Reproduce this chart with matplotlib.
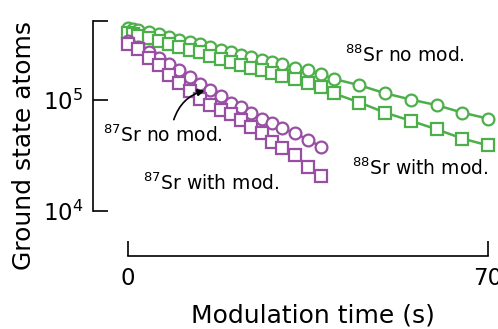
import matplotlib
matplotlib.use('Agg')
import matplotlib.pyplot as plt
from matplotlib.ticker import NullLocator, FixedLocator, FixedFormatter

# modulation time (s) and ground state atom numbers
t88 = [0, 1, 2, 4, 6, 8, 10, 12, 14, 16, 18, 20, 22, 24, 26, 28, 30,
       32.5, 35, 37.5, 40, 45, 50, 55, 60, 65, 70]
sr88_nomod = [4.5e5, 4.4e5, 4.3e5, 4.1e5, 3.9e5, 3.7e5, 3.5e5, 3.3e5, 3.2e5,
              3.0e5, 2.85e5, 2.7e5, 2.55e5, 2.45e5, 2.3e5, 2.2e5, 2.1e5,
              1.95e5, 1.85e5, 1.7e5, 1.55e5, 1.36e5, 1.15e5, 1.01e5, 9.0e4,
              7.7e4, 6.8e4]
sr88_mod = [4.0e5, 3.9e5, 3.8e5, 3.6e5, 3.4e5, 3.2e5, 3.0e5, 2.85e5, 2.7e5,
            2.5e5, 2.35e5, 2.2e5, 2.05e5, 1.95e5, 1.85e5, 1.75e5, 1.65e5,
            1.55e5, 1.42e5, 1.3e5, 1.15e5, 9.5e4, 7.7e4, 6.5e4, 5.45e4,
            4.5e4, 3.9e4]

t87 = [0, 2, 4, 6, 8, 10, 12, 14, 16, 18, 20, 22, 24, 26, 28, 30,
       32.5, 35, 37.5]
sr87_nomod = [3.4e5, 3.0e5, 2.7e5, 2.4e5, 2.1e5, 1.85e5, 1.6e5, 1.4e5,
              1.22e5, 1.08e5, 9.5e4, 8.6e4, 7.7e4, 6.8e4, 6.2e4, 5.55e4,
              5.0e4, 4.4e4, 3.8e4]
sr87_mod = [3.2e5, 2.9e5, 2.4e5, 2.07e5, 1.68e5, 1.43e5, 1.2e5, 1.03e5,
            9.0e4, 8.2e4, 7.5e4, 6.6e4, 5.75e4, 5.0e4, 4.2e4, 3.7e4,
            3.2e4, 2.5e4, 2.05e4]

green = '#4daf4a'
purple = '#984ea3'

plt.rcParams['font.family'] = 'DejaVu Sans'

fig = plt.figure(figsize=(4.98, 3.29), dpi=100)
ax = fig.add_axes([93/498, 1-256/329, 402/498, (256-15)/329])

mk = dict(mfc='white', ms=8.5, mew=1.6, lw=1.8)
ax.semilogy(t88, sr88_nomod, 'o-', color=green, **mk)
ax.semilogy(t88, sr88_mod, 's-', color=green, **mk)
ax.semilogy(t87, sr87_nomod, 'o-', color=purple, **mk)
ax.semilogy(t87, sr87_mod, 's-', color=purple, **mk)

x0 = -(128-93)/(360/70.)
ax.set_xlim(x0, x0 + 402/(360/70.))
ax.set_ylim(10**3.595, 10**5.766)

for s in ['top', 'right']:
    ax.spines[s].set_visible(False)
ax.spines['left'].set_bounds(1e4, 5.15e5)
ax.spines['bottom'].set_bounds(0, 70)
for s in ['left', 'bottom']:
    ax.spines[s].set_linewidth(1.2)

ax.yaxis.set_major_locator(FixedLocator([1e4, 1e5, 5.15e5]))
ax.yaxis.set_major_formatter(FixedFormatter([r'$10^4$', r'$10^5$', '']))
ax.yaxis.set_minor_locator(NullLocator())
ax.set_xticks([0, 70])
ax.tick_params(direction='in', length=11, width=1.2, labelsize=16.5)
ax.tick_params(axis='y', pad=7)
ax.tick_params(axis='x', pad=8)

fs = 13.5
ax.text(42.2, 2.54e5, r'$^{88}$Sr no mod.', fontsize=fs, va='center')
ax.text(43.6, 2.44e4, r'$^{88}$Sr with mod.', fontsize=fs, va='center')
ax.text(-4.9, 4.84e4, r'$^{87}$Sr no mod.', fontsize=fs, va='center')
ax.text(2.9, 1.79e4, r'$^{87}$Sr with mod.', fontsize=fs, va='center')
ax.annotate('', xy=(15.4, 1.23e5), xytext=(8.75, 6.3e4),
            arrowprops=dict(arrowstyle='-|>', color='k', lw=1.2,
                            mutation_scale=10,
                            connectionstyle='arc3,rad=-0.3'))

fig.text(24/498, 1-145/329, 'Ground state atoms', fontsize=18,
         rotation=90, ha='center', va='center')
fig.text(313/498, (329-322)/329, 'Modulation time (s)', fontsize=18,
         ha='center', va='baseline')

fig.savefig('out.png', dpi=100)
